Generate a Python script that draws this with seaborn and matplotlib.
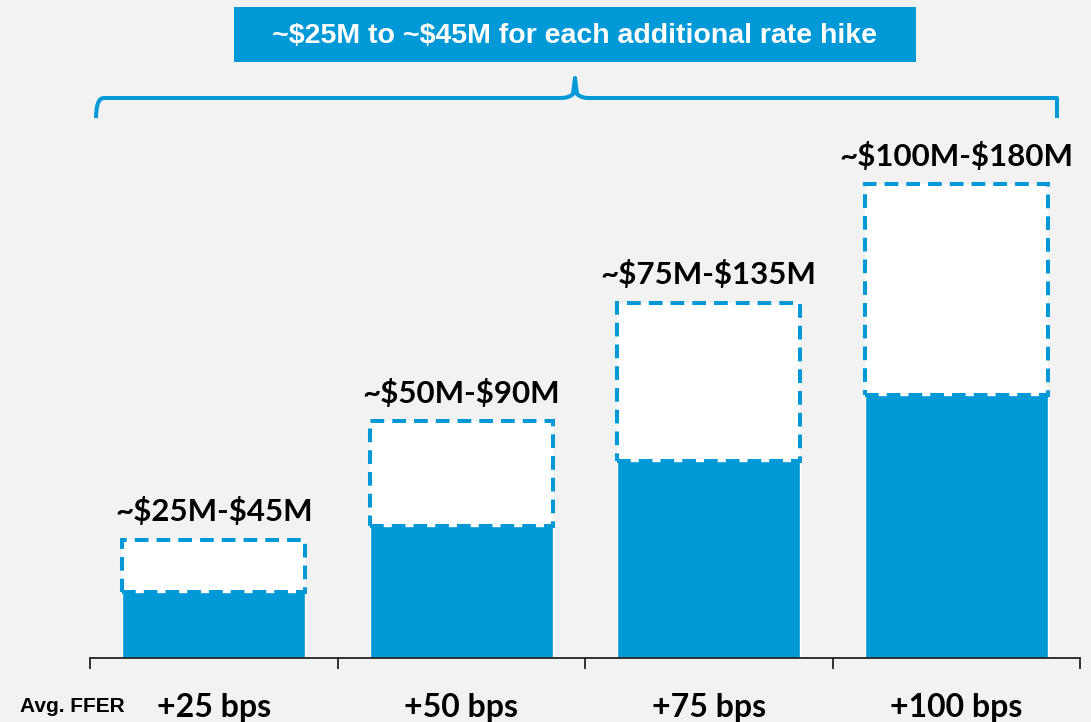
import matplotlib
matplotlib.use("Agg")
import matplotlib.pyplot as plt
import seaborn as sns
import numpy as np
from matplotlib.path import Path
from matplotlib.patches import PathPatch, Rectangle

# ---- data ----
categories = ['+25 bps', '+50 bps', '+75 bps', '+100 bps']
low_values = [25, 50, 75, 100]
high_values = [45, 90, 135, 180]
range_labels = ['~$25M-$45M', '~$50M-$90M', '~$75M-$135M', '~$100M-$180M']
banner_text = '~$25M to ~$45M for each additional rate hike'
axis_title = 'Avg. FFER'

BLUE = '#0099d8'
BG = '#f2f2f2'
W, H = 1091, 722

sns.set_theme(style='white')
plt.rcParams['font.family'] = ['Lato', 'DejaVu Sans']
plt.rcParams['text.parse_math'] = False

fig = plt.figure(figsize=(W / 100, H / 100), dpi=100, facecolor=BG)
ax = fig.add_axes([90 / W, 64 / H, 990 / W, 1 - 64 / H])
ax.set_facecolor('none')

sns.barplot(x=categories, y=low_values, color=BLUE, saturation=1, width=0.74,
            ax=ax, zorder=2)
diff = np.array(high_values) - np.array(low_values)
ax.bar(np.arange(len(categories)), diff, bottom=low_values, width=0.74,
       facecolor='white', edgecolor=BLUE, linewidth=2.9,
       linestyle=(0, (3.4, 2.0)), zorder=3)

for i, (h, lab) in enumerate(zip(high_values, range_labels)):
    ax.annotate(lab, (i, h), xytext=(0, 13), textcoords='offset points',
                ha='center', va='baseline', fontsize=22.5, fontweight='bold',
                color='black', parse_math=False)

ax.set_xlim(-0.5, len(categories) - 0.5)
ax.set_ylim(0, 658 / 2.633)
ax.set_yticks([])
ax.set_xticks(range(len(categories)))
ax.set_xticklabels(categories, fontsize=23, fontweight='bold', color='black')
ax.set_xticks(np.arange(-0.5, len(categories), 1.0), minor=True)
ax.tick_params(axis='x', which='major', length=0, pad=25.5, bottom=True)
ax.tick_params(axis='x', which='minor', length=8, width=1.3, color='#222222',
               direction='out', bottom=True)
for s in ['top', 'right', 'left']:
    ax.spines[s].set_visible(False)
ax.spines['bottom'].set_color('#222222')
ax.spines['bottom'].set_linewidth(1.3)
ax.set_xlabel('')
ax.set_ylabel('')

fig.text(20 / W, 1 - 707 / H, axis_title, fontsize=15, fontweight='bold',
         ha='left', va='center', color='black',
         family=['Liberation Sans', 'DejaVu Sans'])

# banner
def fx(px):
    return px / W

def fy(py):
    return 1 - py / H

fig.patches.append(Rectangle((fx(234), fy(62)), fx(916) - fx(234), fy(7) - fy(62),
                             transform=fig.transFigure, facecolor=BLUE,
                             edgecolor='none'))
fig.text(fx(575), fy(36), banner_text, fontsize=20.5, fontweight='bold',
         color='white', ha='center', va='center',
         family=['Liberation Sans', 'DejaVu Sans'])

# brace
pts = [(96, 118), (96, 98), (104, 98), (116, 98),
       (561, 98), (569, 98), (573, 94), (575, 78),
       (577, 94), (581, 98), (589, 98),
       (1045, 98), (1057, 98), (1057, 98), (1057, 118)]
codes = [Path.MOVETO, Path.CURVE3, Path.CURVE3, Path.LINETO,
         Path.LINETO, Path.CURVE3, Path.CURVE3, Path.LINETO,
         Path.LINETO, Path.CURVE3, Path.CURVE3,
         Path.LINETO, Path.CURVE3, Path.CURVE3, Path.LINETO]
verts = [(fx(x), fy(y)) for x, y in pts]
fig.patches.append(PathPatch(Path(verts, codes), transform=fig.transFigure,
                             facecolor='none', edgecolor=BLUE, linewidth=2.9,
                             capstyle='butt', joinstyle='round'))

fig.savefig('out.png', dpi=100, facecolor=BG)
